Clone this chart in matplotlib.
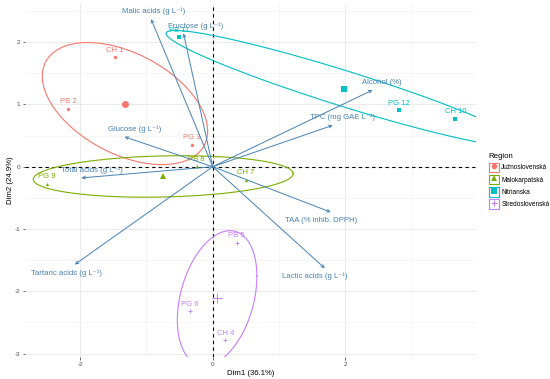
import numpy as np
import matplotlib
matplotlib.use("Agg")
import matplotlib.pyplot as plt
from matplotlib.patches import Rectangle
from matplotlib.lines import Line2D

plt.rcParams['font.family'] = ['Liberation Sans', 'DejaVu Sans']
plt.rcParams['axes.unicode_minus'] = False

# ---------------- data ----------------
sample_names = ["CH 1", "PB 2", "PG 3", "CH 4", "PB 5", "PG 6",
                "CH 7", "PB 8", "PG 9", "CH 10", "PB 11", "PG 12"]
sample_region = ["Južnoslovenská"] * 3 + ["Stredoslovenská"] * 3 + \
                ["Malokarpatská"] * 3 + ["Nitrianska"] * 3
dim1 = [-1.48, -2.18, -0.31, 0.19, 0.36, -0.35, 0.50, -0.24, -2.50, 3.66, -0.51, 2.81]
dim2 = [1.76, 0.93, 0.35, -2.79, -1.22, -2.32, -0.21, 0.01, -0.27, 0.77, 2.08, 0.91]

regions = ["Južnoslovenská", "Malokarpatská", "Nitrianska", "Stredoslovenská"]
# ellipse spread (half extent along Dim1 / Dim2, correlation)
ell_sd1 = [1.247, 1.96, 2.69, 0.60]
ell_sd2 = [0.98, 0.333, 0.934, 1.083]
ell_corr = [-0.449, 0.136, -0.948, 0.323]

variables = ["Malic acids (g L\u207b\u00b9)", "Fructose (g L\u207b\u00b9)",
             "Glucose (g L\u207b\u00b9)", "Total acids (g L\u207b\u00b9)",
             "Alcohol (%)", "TPC (mg GAE L\u207b\u00b9)", "TAA (% inhib. DPPH)",
             "Lactic acids (g L\u207b\u00b9)", "Tartaric acids (g L\u207b\u00b9)"]
var_dim1 = [-0.93, -0.44, -1.33, -1.98, 2.41, 1.81, 1.78, 1.69, -2.08]
var_dim2 = [2.37, 2.14, 0.48, -0.18, 1.23, 0.665, -0.73, -1.63, -1.57]

x_title = "Dim1 (36.1%)"
y_title = "Dim2 (24.9%)"
legend_title = "Region"

# ---------------- style / layout ----------------
region_colors = ["#F8766D", "#7CAE00", "#00BFC4", "#C77CFF"]
region_markers = ["o", "^", "s", "+"]
arrow_color = "#4682B4"
var_label_offsets = [(3, 7.5), (12.5, 7.6), (10.4, 7.4), (10.3, 7.7), (9.5, 7.7),
                     (10, 8.3), (-9.7, -8), (-10, -8), (-8.7, -8.3)]

W, H = 550, 379
fig = plt.figure(figsize=(W / 100, H / 100), dpi=100)
pl, pr, pt, pb = 25, 476, 4, 357
ax = fig.add_axes([pl / W, 1 - pb / H, (pr - pl) / W, (pb - pt) / H])
ax.set_xlim(-2.831, 3.971)
ax.set_ylim(-3.055, 2.612)

for s in ax.spines.values():
    s.set_visible(False)
ax.set_xticks([-2, 0, 2])
ax.set_xticks([-1, 1, 3], minor=True)
ax.set_yticks([-3, -2, -1, 0, 1, 2])
ax.set_yticks([-2.5, -1.5, -0.5, 0.5, 1.5, 2.5], minor=True)
ax.set_xticklabels(["-2", "0", "2"])
ax.set_yticklabels(["-3", "-2", "-1", "0", "1", "2"])
ax.tick_params(which='major', length=1.8, width=0.6, color='#4D4D4D',
               labelsize=4.6, labelcolor='#4D4D4D', pad=1.5)
ax.tick_params(which='minor', length=0)
ax.grid(which='major', color='#EBEBEB', lw=0.8)
ax.grid(which='minor', color='#F3F3F3', lw=0.5)
ax.set_axisbelow(True)

ax.set_xlabel(x_title, fontsize=5.6, color='black', labelpad=2.5)
ax.set_ylabel(y_title, fontsize=5.6, color='black', labelpad=0.5)

# reference lines
ax.axhline(0, color='black', ls=(0, (3, 3)), lw=0.8, zorder=1)
ax.axvline(0, color='black', ls=(0, (3, 3)), lw=0.8, zorder=1)

d1 = np.array(dim1)
d2 = np.array(dim2)
reg = np.array(sample_region)
t = np.linspace(0, 2 * np.pi, 400)

for i, r in enumerate(regions):
    m = reg == r
    col = region_colors[i]
    mk = region_markers[i]
    cx, cy = d1[m].mean(), d2[m].mean()
    # ellipse
    sx, sy, rho = ell_sd1[i], ell_sd2[i], ell_corr[i]
    M = np.array([[sx * sx, rho * sx * sy], [rho * sx * sy, sy * sy]])
    L = np.linalg.cholesky(M)
    e = L @ np.vstack([np.cos(t), np.sin(t)])
    ax.plot(cx + e[0], cy + e[1], color=col, lw=0.8, zorder=2)
    # points
    if mk == "+":
        ax.plot(d1[m], d2[m], ls='', marker=mk, color=col, ms=3.4, mew=0.6, zorder=3)
        ax.plot([cx], [cy], ls='', marker=mk, color=col, ms=7, mew=0.7, zorder=3)
    else:
        ax.plot(d1[m], d2[m], ls='', marker=mk, color=col, ms=2.4, mew=0, zorder=3)
        ax.plot([cx], [cy], ls='', marker=mk, color=col, ms=5.0, mew=0, zorder=3)
    for x, y, nm in zip(d1[m], d2[m], np.array(sample_names)[m]):
        ax.annotate(nm, (x, y), xytext=(0, 7), textcoords='offset pixels',
                    ha='center', va='center', fontsize=5.5, color=col, zorder=4)

# variable arrows
for nm, x, y, off in zip(variables, var_dim1, var_dim2, var_label_offsets):
    ax.annotate('', xy=(x, y), xytext=(0, 0),
                arrowprops=dict(arrowstyle='->', color=arrow_color, lw=0.7,
                                shrinkA=0, shrinkB=0, mutation_scale=5),
                zorder=5)
    ax.annotate(nm, (x, y), xytext=off, textcoords='offset pixels',
                ha='center', va='center', fontsize=5.6, color=arrow_color, zorder=6)

# legend
handles = []
for i, r in enumerate(regions):
    col = region_colors[i]
    mk = region_markers[i]
    box = Rectangle((0, 0), 1, 1, facecolor='white', edgecolor=col, lw=0.8)
    if mk == "+":
        ln = Line2D([], [], ls='', marker=mk, color=col, ms=5, mew=0.7)
    else:
        ln = Line2D([], [], ls='', marker=mk, color=col, ms=4, mew=0)
    handles.append((box, ln))
leg = fig.legend(handles, regions, title=legend_title, loc='center left',
                 bbox_to_anchor=(484 / W, 1 - 181 / H), frameon=False,
                 fontsize=4.7, title_fontsize=5.6, handlelength=1.6,
                 handleheight=1.9, labelspacing=0.4, handletextpad=0.35,
                 borderpad=0.2, alignment='left')

fig.savefig("out.png", dpi=100)
